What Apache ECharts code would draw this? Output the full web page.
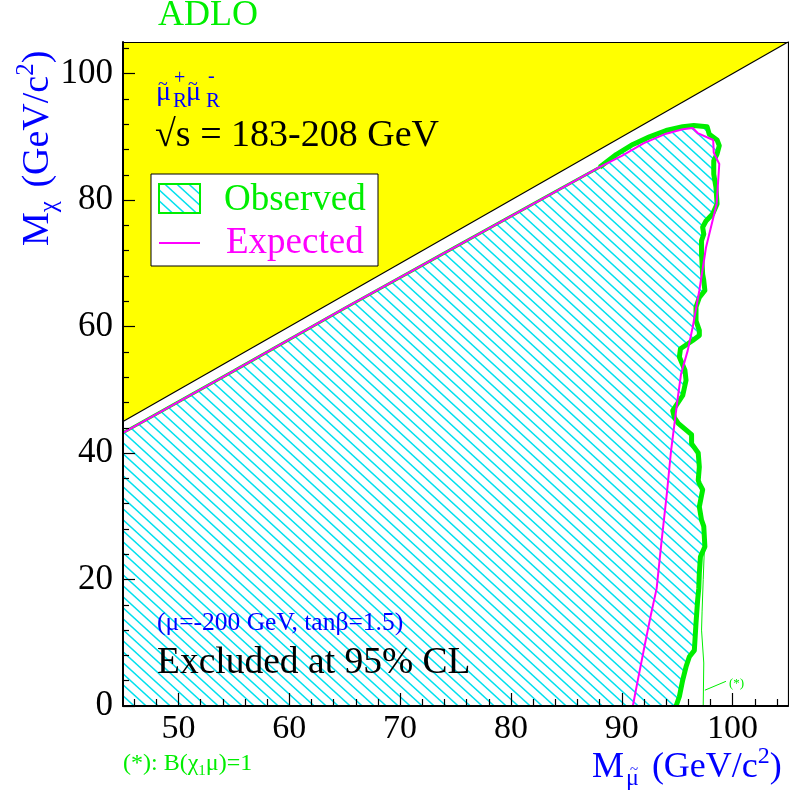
<!DOCTYPE html>
<html><head><meta charset="utf-8">
<script src="https://cdn.jsdelivr.net/npm/echarts@6/dist/echarts.min.js"></script>
<style>html,body{margin:0;padding:0;background:#fff}#c{width:789px;height:791px}</style>
</head><body><div id="c"></div>
<script>
// ---- tick values ----
const xMajor = [50, 60, 70, 80, 90, 100];
const xMinor = [46, 48, 52, 54, 56, 58, 62, 64, 66, 68, 72, 74, 76, 78, 82, 84, 86, 88, 92, 94, 96, 98, 102, 104];
const yMajor = [0, 20, 40, 60, 80, 100];
const yMinor = [4, 8, 12, 16, 24, 28, 32, 36, 44, 48, 52, 56, 64, 68, 72, 76, 84, 88, 92, 96, 104];

// ---- kinematic limit (M_chi = M_smuon) ----
const kinX = [45, 105];
const kinY = [45, 105];

// ---- upper boundary of excluded region (along kinematic limit) ----
const bndX = [45, 55, 65, 75, 85, 88];
const bndY = [43.2, 53.0, 62.9, 72.6, 82.3, 85.2];

// ---- observed contour (right side) ----
const obsX = [88.0, 89.5, 91.0, 92.5, 94.0, 95.5, 96.5, 97.7, 97.9, 98.6, 98.8, 98.6, 98.3, 98.3, 98.5, 98.6, 98.2, 97.6, 97.3, 97.4, 97.2, 97.2, 97.3, 97.4, 97.5, 97.0, 96.7, 96.7, 97.0, 97.0, 96.4, 95.3, 95.2, 95.7, 95.8, 95.5, 94.6, 94.75, 95.1, 95.5, 96.3, 96.3, 96.9, 97.0, 96.9, 97.0, 97.3, 97.0, 97.2, 97.4, 97.5, 97.1, 97.0, 96.95, 96.85, 96.7, 96.55, 96.1, 95.8, 95.5, 95.2, 94.9];
const obsY = [85.2, 87.2, 88.8, 90.0, 91.0, 91.6, 91.8, 91.6, 90.4, 89.5, 88.6, 87.3, 86.2, 84.1, 82.0, 79.4, 77.8, 76.7, 75.7, 74.6, 73.6, 71.5, 68.3, 67.3, 65.7, 64.6, 63.1, 60.9, 59.4, 58.6, 57.8, 56.5, 55.2, 53.1, 51.5, 49.1, 46.7, 45.6, 44.7, 44.1, 42.9, 41.5, 40.0, 37.8, 35.7, 35.2, 34.2, 31.5, 29.4, 28.4, 25.2, 23.6, 21.0, 18.6, 16.8, 13.1, 8.8, 7.8, 6.2, 4.1, 1.5, 0.0];

// ---- expected contour ----
const expX = [88.0, 90.0, 92.0, 94.0, 95.5, 96.4, 96.85, 98.25, 98.3, 98.8, 98.56, 97.6, 97.0, 96.4, 95.95, 95.35, 95.0, 94.45, 94.1, 93.6, 93.15, 92.65, 92.05, 91.45, 91.0];
const expY = [85.0, 87.0, 89.0, 90.5, 91.2, 91.4, 90.6, 89.5, 87.5, 85.7, 79.4, 72.5, 65.7, 59.9, 56.2, 52.5, 48.0, 40.4, 34.1, 26.2, 18.6, 14.6, 9.4, 4.1, 0.0];

// ---- (*) contour, B(chi1 mu)=1 ----
const starX = [97.45, 97.35, 97.25, 97.2, 97.4, 97.35];
const starY = [24.6, 20.0, 15.0, 12.0, 6.8, 0.0];
const arrowFrom = [99.4, 3.9];
const arrowTo = [97.5, 2.5];

const F = '"Liberation Serif","Times New Roman",serif';
const GREEN = '#00ee00', BLUE = '#0000ff', MAG = '#ff00ff', CYAN = '#00e0ee';
const zip = (a, b) => a.map((v, i) => [v, b[i]]);

function hatchCanvas() {
  const w = 12, h = 11;
  const c = document.createElement('canvas');
  c.width = w; c.height = h;
  const g = c.getContext('2d');
  g.strokeStyle = CYAN; g.lineWidth = 1.5;
  for (let k = -1; k <= 1; k++) {
    g.beginPath(); g.moveTo(k * w - w, -h); g.lineTo(k * w + 2 * w, 2 * h); g.stroke();
  }
  return c;
}
const hatch = { image: hatchCanvas(), repeat: 'repeat' };

// region polygon
const regX = [45].concat(bndX, obsX.slice(1));
const regY = [0].concat(bndY, obsY.slice(1));

const chart = echarts.init(document.getElementById('c'), null, { renderer: 'canvas' });

function txt(x, y, text, color, size, extra) {
  return Object.assign({ type: 'text', x: x, y: y, z: 20,
    style: { text: text, fill: color, fontSize: size, fontFamily: F, align: 'left', verticalAlign: 'middle' } }, extra || {});
}

const baseAxis = { type: 'value', min: 45, max: 105, splitLine: { show: false }, z: 10 };
const option = {
  animation: false,
  backgroundColor: '#fff',
  grid: { left: 123, right: 1, top: 42, bottom: 85, containLabel: false },
  xAxis: [
    Object.assign({}, baseAxis, {
      position: 'bottom',
      axisLine: { show: true, onZero: false, lineStyle: { color: '#000', width: 2 } },
      axisTick: { show: true, inside: true, length: 13, customValues: xMajor, lineStyle: { color: '#000', width: 1.2 } },
      axisLabel: { show: true, customValues: xMajor, margin: 6, color: '#000', fontSize: 34, fontFamily: F }
    }),
    Object.assign({}, baseAxis, {
      position: 'bottom',
      axisLine: { show: false, onZero: false },
      axisTick: { show: true, inside: true, length: 7, customValues: xMinor, lineStyle: { color: '#000', width: 1.2 } },
      axisLabel: { show: false }
    }),
    Object.assign({}, baseAxis, {
      position: 'top',
      axisLine: { show: true, onZero: false, lineStyle: { color: '#000', width: 1.2 } },
      axisTick: { show: false }, axisLabel: { show: false }
    })
  ],
  yAxis: [
    {
      type: 'value', min: 0, max: 105, position: 'left', splitLine: { show: false }, z: 10,
      axisLine: { show: true, onZero: false, lineStyle: { color: '#000', width: 2 } },
      axisTick: { show: true, inside: true, length: 12, customValues: yMajor, lineStyle: { color: '#000', width: 1.2 } },
      axisLabel: { show: true, customValues: yMajor, margin: 10, color: '#000', fontSize: 35, fontFamily: F }
    },
    {
      type: 'value', min: 0, max: 105, position: 'left', splitLine: { show: false }, z: 10,
      axisLine: { show: false, onZero: false },
      axisTick: { show: true, inside: true, length: 6, customValues: yMinor, lineStyle: { color: '#000', width: 1.2 } },
      axisLabel: { show: false }
    },
    {
      type: 'value', min: 0, max: 105, position: 'right', splitLine: { show: false }, z: 10,
      axisLine: { show: true, onZero: false, lineStyle: { color: '#000', width: 1.2 } },
      axisTick: { show: false }, axisLabel: { show: false }
    }
  ],
  series: [
    {
      type: 'line', data: zip(kinX, kinY), symbol: 'none', silent: true, z: 1,
      lineStyle: { color: '#000', width: 1.2 },
      areaStyle: { color: '#ffff00', origin: 'end', opacity: 1 }
    },
    {
      type: 'custom', data: [[45, 0]], z: 2, silent: true, clip: true,
      renderItem: function (params, api) {
        const pts = regX.map((x, i) => api.coord([x, regY[i]]));
        return { type: 'polygon', shape: { points: pts }, style: { fill: hatch, stroke: null } };
      }
    },
    {
      type: 'line', data: zip(bndX, bndY), symbol: 'none', silent: true, z: 3,
      lineStyle: { color: GREEN, width: 3 }
    },
    {
      type: 'line', data: zip(obsX, obsY), symbol: 'none', silent: true, z: 4,
      lineStyle: { color: GREEN, width: 5, join: 'round' }
    },
    {
      type: 'line', data: zip(starX, starY), symbol: 'none', silent: true, z: 4,
      lineStyle: { color: GREEN, width: 1 },
      markLine: {
        silent: true, symbol: ['none', 'arrow'], symbolSize: [0, 8],
        label: { show: false },
        lineStyle: { color: GREEN, width: 1, type: 'solid' },
        data: [[{ coord: arrowFrom }, { coord: arrowTo }]]
      }
    },
    {
      type: 'line', data: zip(bndX, bndY).concat(zip(expX, expY).slice(1)), symbol: 'none', silent: true, z: 5,
      lineStyle: { color: MAG, width: 2 }
    }
  ],
  graphic: [
    txt(158, 16, 'ADLO', GREEN, 36),
    // smuon pair label
    txt(156, 93, 'μ', BLUE, 28),
    txt(158, 85, '~', BLUE, 18),
    txt(173, 101, 'R', BLUE, 21),
    txt(174, 79, '+', BLUE, 20),
    txt(186, 93, 'μ', BLUE, 28),
    txt(188, 85, '~', BLUE, 18),
    txt(206, 101, 'R', BLUE, 21),
    txt(208, 77, '-', BLUE, 20),
    txt(155, 136, '√s = 183-208 GeV', '#000', 38),
    // legend
    { type: 'rect', z: 20, shape: { x: 151, y: 174, width: 227, height: 92 }, style: { fill: '#fff', stroke: '#000', lineWidth: 1 } },
    { type: 'rect', z: 21, shape: { x: 159, y: 184, width: 41, height: 29 }, style: { fill: hatch, stroke: GREEN, lineWidth: 2 } },
    txt(224, 200, 'Observed', GREEN, 37, { z: 21 }),
    { type: 'line', z: 21, shape: { x1: 159, y1: 243, x2: 200, y2: 243 }, style: { stroke: MAG, lineWidth: 2 } },
    txt(226, 243, 'Expected', MAG, 37, { z: 21 }),
    txt(157, 623, '(μ=-200 GeV, tanβ=1.5)', BLUE, 25.5),
    txt(157, 663, 'Excluded at 95% CL', '#000', 37.5),
    txt(729, 684, '(*)', GREEN, 13),
    { type: 'text', x: 123, y: 764, z: 20, style: {
        text: '{g|(*): B(χ}{s|1}{g|μ)=1}', fill: GREEN, align: 'left', verticalAlign: 'middle',
        rich: { g: { fontSize: 24, fontFamily: F, lineHeight: 30, verticalAlign: 'middle' },
                s: { fontSize: 15, fontFamily: F, lineHeight: 15, verticalAlign: 'bottom' } } } },
    // x axis title
    { type: 'text', x: 592, y: 768, z: 20, style: {
        text: '{m|M}{s|μ}{m| (GeV/c}{p|2}{m|)}', fill: BLUE, align: 'left', verticalAlign: 'middle',
        rich: { m: { fontSize: 36, fontFamily: F, lineHeight: 46, verticalAlign: 'middle' },
                s: { fontSize: 24, fontFamily: F, lineHeight: 24, verticalAlign: 'bottom', padding: [0, 4, 0, 2] },
                p: { fontSize: 24, fontFamily: F, lineHeight: 24, verticalAlign: 'top' } } } },
    txt(630, 770, '~', BLUE, 15),
    // y axis title
    { type: 'text', x: 38, y: 246, rotation: Math.PI / 2, z: 20, style: {
        text: '{m|M}{s|χ}{m| (GeV/c}{p|2}{m|)}', fill: BLUE, align: 'left', verticalAlign: 'middle',
        rich: { m: { fontSize: 38, fontFamily: F, lineHeight: 48, verticalAlign: 'middle' },
                s: { fontSize: 25, fontFamily: F, lineHeight: 25, verticalAlign: 'bottom', padding: [0, 4, 0, 0] },
                p: { fontSize: 25, fontFamily: F, lineHeight: 25, verticalAlign: 'top' } } } }
  ]
};
chart.setOption(option);
</script>
</body></html>
